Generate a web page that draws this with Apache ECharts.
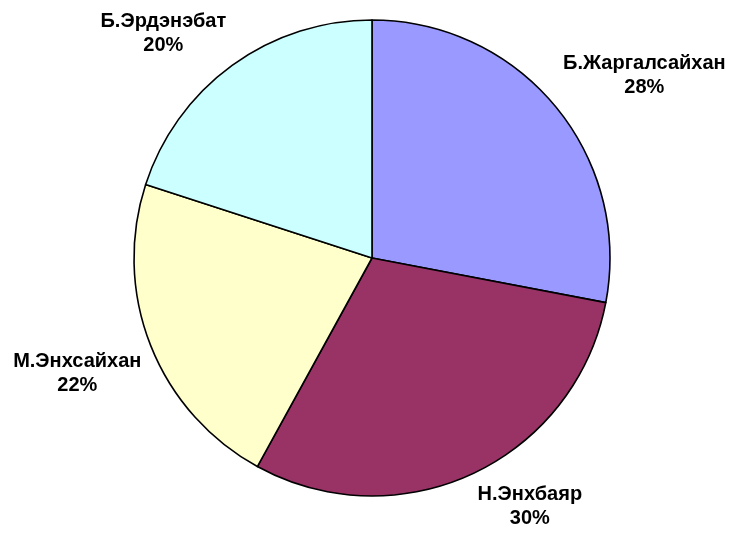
<!DOCTYPE html>
<html>
<head>
<meta charset="utf-8">
<script src="https://cdn.jsdelivr.net/npm/echarts@6/dist/echarts.min.js"></script>
<style>
  html, body { margin: 0; padding: 0; background: #fff; }
  #chart { width: 738px; height: 533px; }
</style>
</head>
<body>
<div id="chart"></div>
<script>
// данные
const names = ['Б.Жаргалсайхан', 'Н.Энхбаяр', 'М.Энхсайхан', 'Б.Эрдэнэбат']
const values = [28, 30, 22, 20]
const colors = ['#9999FF', '#993366', '#FFFFCC', '#CCFFFF']

const cx = 372, cy = 258, r = 238
const total = values.reduce((a, b) => a + b, 0)

let chart = echarts.init(document.getElementById('chart'), null, { renderer: 'canvas' })

let option = {
  animation: false,
  series: [
    {
      type: 'pie',
      center: [cx, cy],
      radius: [0, r],
      startAngle: 90,
      clockwise: true,
      avoidLabelOverlap: false,
      data: names.map((n, i) => ({ name: n, value: values[i], itemStyle: { color: colors[i] } })),
      itemStyle: { borderColor: '#000', borderWidth: 1.6 },
      label: {
        position: 'outside',
        formatter: '{b}\n{c}%',
        color: '#000',
        fontFamily: 'Liberation Sans, Arial, sans-serif',
        fontWeight: 'bold',
        fontSize: 20,
        lineHeight: 24,
        align: 'center'
      },
      labelLine: { show: false },
      emphasis: { disabled: true },
      // excel-like: label box sits just outside the slice edge
      labelLayout: function (params) {
        let before = 0
        for (let i = 0; i < params.dataIndex; i++) before += values[i]
        let mid = (before + values[params.dataIndex] / 2) / total * Math.PI * 2
        let ux = Math.sin(mid), uy = -Math.cos(mid)
        let w = params.labelRect.width, h = params.labelRect.height
        let d = 10
        let x = cx + ux * (r + d) + Math.sign(ux) * w / 2
        let y = cy + uy * (r + d) + Math.sign(uy) * h / 2
        return { x: x, y: y, align: 'center', verticalAlign: 'middle' }
      }
    }
  ]
}
option && chart.setOption(option)
</script>
</body>
</html>
